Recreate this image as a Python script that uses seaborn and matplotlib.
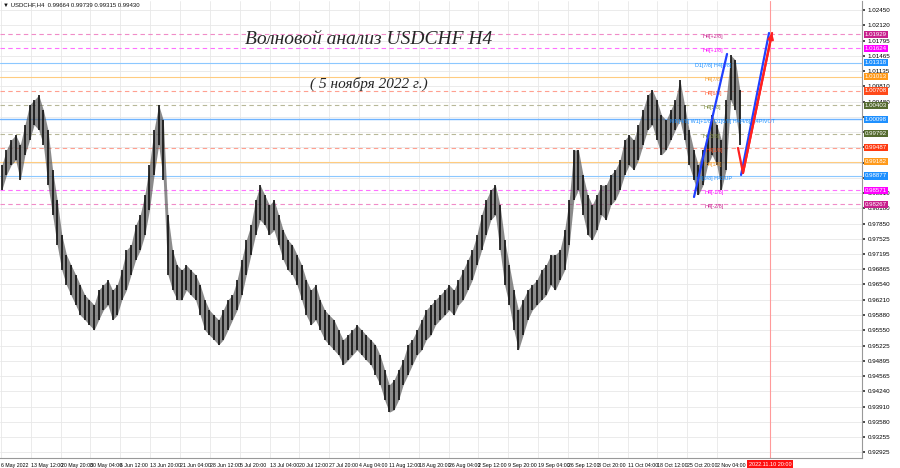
import numpy as np
import matplotlib
matplotlib.use("Agg")
import matplotlib.pyplot as plt
import matplotlib.transforms as mtransforms
import seaborn as sns

sns.set_theme(style="white")
plt.rcParams["font.family"] = ["Liberation Sans", "DejaVu Sans"]

# ---------------------------------------------------------------
# Data: USDCHF H4, one drawn bar per 5 H4 bars (high / low)
# ---------------------------------------------------------------
highs = [
    0.9911, 0.9944, 0.9965, 0.9976, 0.9955, 0.9998, 1.0041, 1.0051, 1.0062, 1.0030,
    0.9987, 0.9901, 0.9836, 0.9761, 0.9718, 0.9696, 0.9675, 0.9653, 0.9631, 0.9621,
    0.9610, 0.9642, 0.9653, 0.9664, 0.9642, 0.9653, 0.9685, 0.9728, 0.9739, 0.9782,
    0.9804, 0.9847, 0.9911, 0.9987, 1.0041, 1.0008, 0.9804, 0.9728, 0.9696, 0.9685,
    0.9696, 0.9685, 0.9675, 0.9653, 0.9621, 0.9599, 0.9588, 0.9578, 0.9599, 0.9621,
    0.9631, 0.9664, 0.9707, 0.9750, 0.9782, 0.9836, 0.9868, 0.9847, 0.9825, 0.9836,
    0.9804, 0.9771, 0.9750, 0.9739, 0.9718, 0.9696, 0.9664, 0.9642, 0.9653, 0.9621,
    0.9599, 0.9588, 0.9578, 0.9556, 0.9535, 0.9545, 0.9556, 0.9567, 0.9556, 0.9545,
    0.9535, 0.9524, 0.9502, 0.9470, 0.9438, 0.9448, 0.9470, 0.9491, 0.9524, 0.9535,
    0.9556, 0.9578, 0.9599, 0.9610, 0.9621, 0.9631, 0.9642, 0.9653, 0.9642, 0.9664,
    0.9685, 0.9707, 0.9728, 0.9761, 0.9804, 0.9836, 0.9858, 0.9868, 0.9825, 0.9750,
    0.9696, 0.9642, 0.9599, 0.9621, 0.9642, 0.9653, 0.9664, 0.9685, 0.9696, 0.9718,
    0.9718, 0.9728, 0.9771, 0.9836, 0.9944, 0.9944, 0.9890, 0.9847, 0.9825, 0.9847,
    0.9868, 0.9868, 0.9890, 0.9901, 0.9922, 0.9965, 0.9976, 0.9965, 0.9998, 1.0030,
    1.0062, 1.0073, 1.0051, 1.0019, 1.0008, 1.0030, 1.0051, 1.0095, 1.0041, 0.9987,
    0.9944, 0.9911, 0.9944, 0.9976, 1.0019, 0.9998, 0.9965, 1.0051, 1.0148, 1.0138, 1.0073,
]
lows = [
    0.9858, 0.9890, 0.9911, 0.9922, 0.9879, 0.9933, 0.9965, 0.9998, 0.9987, 0.9955,
    0.9868, 0.9804, 0.9739, 0.9685, 0.9653, 0.9631, 0.9610, 0.9588, 0.9578, 0.9567,
    0.9556, 0.9578, 0.9599, 0.9610, 0.9578, 0.9588, 0.9621, 0.9642, 0.9675, 0.9707,
    0.9728, 0.9761, 0.9815, 0.9890, 0.9955, 0.9879, 0.9675, 0.9642, 0.9621, 0.9621,
    0.9642, 0.9631, 0.9621, 0.9588, 0.9556, 0.9545, 0.9535, 0.9524, 0.9535, 0.9556,
    0.9578, 0.9599, 0.9631, 0.9675, 0.9718, 0.9761, 0.9793, 0.9782, 0.9761, 0.9771,
    0.9739, 0.9707, 0.9685, 0.9675, 0.9653, 0.9621, 0.9588, 0.9567, 0.9578, 0.9556,
    0.9535, 0.9524, 0.9513, 0.9502, 0.9481, 0.9491, 0.9502, 0.9513, 0.9502, 0.9491,
    0.9481, 0.9459, 0.9438, 0.9405, 0.9379, 0.9384, 0.9405, 0.9438, 0.9459, 0.9481,
    0.9502, 0.9513, 0.9535, 0.9545, 0.9567, 0.9578, 0.9588, 0.9599, 0.9588, 0.9610,
    0.9621, 0.9642, 0.9664, 0.9696, 0.9728, 0.9761, 0.9793, 0.9804, 0.9728, 0.9653,
    0.9610, 0.9556, 0.9513, 0.9545, 0.9578, 0.9599, 0.9610, 0.9621, 0.9631, 0.9653,
    0.9642, 0.9664, 0.9685, 0.9739, 0.9836, 0.9858, 0.9804, 0.9761, 0.9750, 0.9771,
    0.9804, 0.9793, 0.9825, 0.9836, 0.9858, 0.9890, 0.9911, 0.9901, 0.9922, 0.9955,
    0.9987, 0.9998, 0.9965, 0.9933, 0.9944, 0.9965, 0.9987, 1.0008, 0.9965, 0.9911,
    0.9879, 0.9847, 0.9868, 0.9911, 0.9933, 0.9911, 0.9858, 0.9901, 1.0051, 1.0030, 0.9955,
]

# Murrey math levels
levels = [1.01929, 1.01624, 1.01318, 1.01013, 1.00708, 1.00403, 1.00098,
          0.99792, 0.99487, 0.99182, 0.98877, 0.98571, 0.98267]
level_labels = ["H4[+2/8]", "H4[+1/8]", "D1[7/8] H4[8/8]", "H4[7/8]", "H4[6/8]",
                "H4[5/8]", "MN[4/8] W1[+1/8] D1[6/8] H4[4/8] H4PIVOT", "H4[3/8]",
                "H4[2/8]", "H4[1/8]", "H4[0/8] H4SUP", "H4[-1/8]", "H4[-2/8]"]
level_line_colors = ["#f08cc8", "#ff70ff", "#8cc8ff", "#ffcc80", "#ffa090", "#b8b898",
                     "#70b4ff", "#b8b898", "#ffa090", "#ffcc80", "#8cc8ff", "#ff70ff", "#f08cc8"]
level_box_colors = ["#c8208c", "#ff00ff", "#1e90ff", "#ff9a1a", "#ff4a1a", "#556b2f",
                    "#1e90ff", "#556b2f", "#ff3a10", "#ff9a1a", "#1e90ff", "#ff00ff", "#c8208c"]
level_text_colors = ["#c8208c", "#ff00ff", "#1e90ff", "#f09a30", "#ff5a30", "#7a8a3a",
                     "#1e90ff", "#7a8a3a", "#ff5a30", "#f09a30", "#1e90ff", "#ff00ff", "#c8208c"]
level_styles = ["--", "--", "-", "-", "--", "--", "-", "--", "--", "-", "-", "--", "--"]
level_label_x = [762, 762, 753, 764, 764, 763, 726, 762, 765, 764, 753, 764, 764]

price_ticks = [1.02450, 1.02120, 1.01795, 1.01465, 1.01135, 1.00810, 1.00480, 1.00150,
               0.99820, 0.99495, 0.99165, 0.98835, 0.98510, 0.98180, 0.97850, 0.97525,
               0.97195, 0.96865, 0.96540, 0.96210, 0.95880, 0.95550, 0.95225, 0.94895,
               0.94565, 0.94240, 0.93910, 0.93580, 0.93255, 0.92925]

date_labels = ["6 May 2022", "13 May 12:00", "20 May 20:00", "30 May 04:00", "6 Jun 12:00",
               "13 Jun 20:00", "21 Jun 04:00", "28 Jun 12:00", "5 Jul 20:00", "13 Jul 04:00",
               "20 Jul 12:00", "27 Jul 20:00", "4 Aug 04:00", "11 Aug 12:00", "18 Aug 20:00",
               "26 Aug 04:00", "2 Sep 12:00", "9 Sep 20:00", "19 Sep 04:00", "26 Sep 12:00",
               "3 Oct 20:00", "11 Oct 04:00", "18 Oct 12:00", "25 Oct 20:00", "2 Nov 04:00"]

# wave projection lines (bar index, price)
wave_x = [752.3, 788.1]
wave_y = [0.98425, 1.01505]
red_x = [800.0, 805.4, 836.9]
red_y = [0.99480, 0.98942, 1.01957]
blue_x = [803.3, 833.6]
blue_y = [0.98899, 1.01957]
now_bar = 834.7

# ---------------------------------------------------------------
# Figure
# ---------------------------------------------------------------
bar_step = 5
x = np.arange(len(highs)) * bar_step + 2
date_pos = 1.08 + 32.34 * np.arange(len(date_labels))

fig = plt.figure(figsize=(9, 4.68), dpi=100)
ax = fig.add_axes([0.0, 10 / 468, 862 / 900, 457 / 468])
ax.set_xlim(0, 934.4)
ax.set_ylim(0.92803, 1.02646)

# tick labels hidden behind a level box are left empty, as in the terminal
tick_text = [("" if min(abs(p - lv) for lv in levels) < 0.0006 else f"{p:.5f}")
             for p in price_ticks]
ax.set_yticks(price_ticks)
ax.set_yticklabels(tick_text)
ax.set_xticks(date_pos)
ax.set_xticklabels(date_labels, ha="left")
ax.grid(True, color="#e8e8e8", lw=0.6)
ax.yaxis.tick_right()
ax.tick_params(axis="y", labelsize=4.5, length=2, pad=2, colors="#333333", labelcolor="black")
ax.tick_params(axis="x", labelsize=3.8, length=2, pad=1.5, colors="#333333", labelcolor="black")
for s in ["top", "left"]:
    ax.spines[s].set_visible(False)
for s in ["right", "bottom"]:
    ax.spines[s].set_color("#999999")
    ax.spines[s].set_linewidth(0.8)

# levels
trans_y = mtransforms.blended_transform_factory(ax.transAxes, ax.transData)
for lv, lab, lc, bc, tc, ls, lx in zip(levels, level_labels, level_line_colors,
                                       level_box_colors, level_text_colors,
                                       level_styles, level_label_x):
    lw = 1.0 if lab.startswith("MN") else 0.8
    ax.axhline(lv, color=lc, ls=ls, lw=lw, dashes=(4, 3) if ls == "--" else (None, None), zorder=1)
    ax.text(lx, lv, lab, fontsize=3.9, color=tc, ha="left", va="top", zorder=4)
    ax.annotate(f"{lv:.5f}", xy=(1.0, lv), xycoords=trans_y, xytext=(2.0, 0),
                textcoords="offset points", ha="left", va="center", fontsize=4.4,
                color="white", annotation_clip=False, zorder=6,
                bbox=dict(boxstyle="square,pad=0.18", fc=bc, ec="none"))

# price bars
ax.fill_between(x, lows, highs, color="#5a5a5a", alpha=0.7, lw=0, zorder=2)
ax.vlines(x, lows, highs, color="#111111", lw=1.2, zorder=3)

# current time marker
ax.axvline(now_bar, color="#ff9a9a", lw=0.8, zorder=1)
trans_x = mtransforms.blended_transform_factory(ax.transData, ax.transAxes)
ax.annotate("2022.11.10 20:00", xy=(now_bar, 0), xycoords=trans_x, xytext=(0, -4.6),
            textcoords="offset points", ha="center", va="center", fontsize=4.0,
            color="white", annotation_clip=False,
            bbox=dict(boxstyle="square,pad=0.3", fc="#ff1010", ec="none"))

# wave lines
sns.lineplot(x=wave_x, y=wave_y, sort=False, estimator=None, color="#2040ff", lw=1.6, ax=ax, zorder=5)
sns.lineplot(x=blue_x, y=blue_y, sort=False, estimator=None, color="#2040ff", lw=1.6, ax=ax, zorder=5)
sns.lineplot(x=red_x, y=red_y, sort=False, estimator=None, color="#ff2020", lw=1.6, ax=ax, zorder=5)
ax.annotate("", xy=(red_x[-1], red_y[-1]), xytext=(red_x[-2], red_y[-2]),
            arrowprops=dict(arrowstyle="-|>", color="#ff2020", lw=1.6, mutation_scale=8,
                            shrinkA=0, shrinkB=0), zorder=5)

# texts
fig.text(3 / 900, 1 - 4.5 / 468, "\u25bc USDCHF,H4  0.99664 0.99739 0.99315 0.99430",
         fontsize=4.3, ha="left", va="center", color="#111111",
         family=["Liberation Sans", "DejaVu Sans"])
fig.text(245 / 900, 1 - 39 / 468, "Волновой анализ USDCHF H4", fontsize=14,
         style="italic", family=["Liberation Serif", "DejaVu Serif"], ha="left", va="center")
fig.text(310 / 900, 1 - 84 / 468, "( 5 ноября 2022 г.)", fontsize=11,
         style="italic", family=["Liberation Serif", "DejaVu Serif"], ha="left", va="center")

fig.savefig("out.png", dpi=100)
